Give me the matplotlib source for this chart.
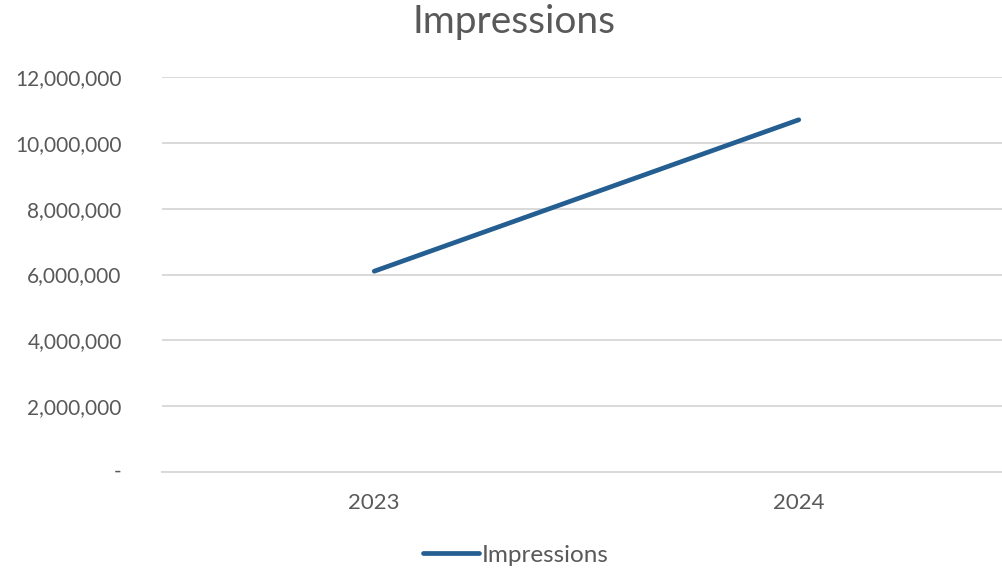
import matplotlib
matplotlib.use("Agg")
import matplotlib.pyplot as plt
from matplotlib.ticker import FuncFormatter, MultipleLocator

years = ["2023", "2024"]
impressions = [6100000, 10700000]

plt.rcParams["font.family"] = ["Lato", "DejaVu Sans"]
text_color = "#595959"
line_color = "#255e91"
grid_color = "#d9d9d9"

fig = plt.figure(figsize=(10.03, 5.69), dpi=100)
ax = fig.add_axes([162 / 1003, 1 - 472 / 569, (1011 - 162) / 1003, (472 - 77) / 569])

x = list(range(len(years)))
ax.plot(x, impressions, color=line_color, linewidth=3.4,
        solid_capstyle="round", label="Impressions")

ax.set_xlim(-0.5, len(years) - 0.5)
ax.set_ylim(0, 12000000)
ax.yaxis.set_major_locator(MultipleLocator(2000000))


def fmt(v, pos):
    if abs(v) < 1:
        return ""
    return f"{v:,.0f}"


ax.yaxis.set_major_formatter(FuncFormatter(fmt))
ax.set_xticks(x)
ax.set_xticklabels(years)

ax.grid(axis="y", color=grid_color, linewidth=1.4)
ax.set_axisbelow(True)
for side in ["top", "right", "left"]:
    ax.spines[side].set_visible(False)
ax.spines["bottom"].set_color(grid_color)
ax.spines["bottom"].set_linewidth(1.4)

ax.tick_params(axis="both", length=0, labelsize=15, labelcolor=text_color)
ax.tick_params(axis="x", labelsize=16)
ax.tick_params(axis="y", pad=29)
ax.tick_params(axis="x", pad=15)

# zero shown as a dash in accounting style
ax.annotate("-", xy=(0, 0), xycoords="axes fraction",
            xytext=(-41, 0), textcoords="offset pixels",
            ha="right", va="center", fontsize=15, color=text_color)

fig.text(514 / 1003, 1 - 22 / 569, "Impressions", ha="center", va="center",
         fontsize=28, color=text_color)

leg = fig.legend(loc="center", bbox_to_anchor=(516 / 1003, 1 - 555 / 569),
                 frameon=False, fontsize=17.5, handlelength=2.3,
                 handletextpad=0.1, labelcolor=text_color)

fig.savefig("out.png", dpi=100)
